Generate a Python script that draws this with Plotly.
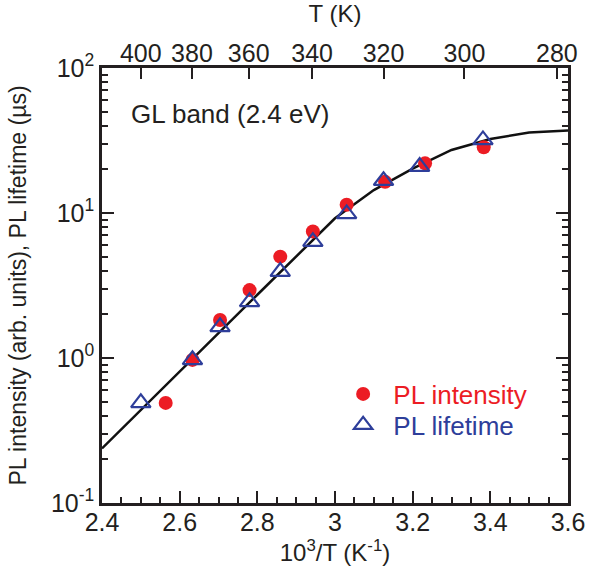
import plotly.graph_objects as go

# ---- data ----
int_x = [2.564, 2.633, 2.704, 2.780, 2.859, 2.943, 3.030, 3.129, 3.232, 3.383]
int_y = [0.49, 0.97, 1.83, 2.94, 5.0, 7.45, 11.4, 16.4, 22.0, 28.4]

life_x = [2.500, 2.633, 2.704, 2.780, 2.859, 2.943, 3.030, 3.125, 3.218, 3.381]
life_y = [0.49, 0.97, 1.64, 2.44, 3.94, 6.34, 9.85, 16.7, 20.9, 31.9]

fit_x = [2.40, 2.60, 2.80, 3.00, 3.10, 3.20, 3.30, 3.40, 3.50, 3.60]
fit_y = [0.238, 0.81, 2.73, 9.2, 14.4, 20.2, 27.2, 32.4, 35.9, 37.0]

T_ticks = [400, 380, 360, 340, 320, 300, 280]
y_tickvals = [0.1, 1, 10, 100]
y_ticktext = ["10<sup>-1</sup>", "10<sup>0</sup>", "10<sup>1</sup>", "10<sup>2</sup>"]
y_minor = [m * d for d in (0.1, 1, 10) for m in range(2, 10)]

RED = "#EC1C24"
BLUE = "#2E3E9A"
INK = "#231F20"
FONT = "Liberation Sans, Arial, sans-serif"
NB = "\u00a0"

fig = go.Figure()
fig.add_trace(go.Scatter(x=fit_x, y=fit_y, mode="lines",
                         line=dict(color="#111111", width=2.5), showlegend=False))
fig.add_trace(go.Scatter(x=int_x, y=int_y, mode="markers", legend="legend",
                         name='<span style="color:%s">%sPL intensity</span>' % (RED, NB),
                         marker=dict(symbol="circle", size=14, color=RED)))
fig.add_trace(go.Scatter(x=life_x, y=life_y, mode="markers", legend="legend2",
                         name='<span style="color:%s">%sPL lifetime</span>' % (BLUE, NB),
                         marker=dict(symbol="triangle-up-open", size=17, color=BLUE,
                                     line=dict(width=2.2, color=BLUE))))
# invisible trace to attach the top (T) axis
fig.add_trace(go.Scatter(x=[2.4], y=[1], xaxis="x2", mode="markers",
                         marker=dict(opacity=0), showlegend=False, hoverinfo="skip"))

legend_common = dict(xanchor="left", yanchor="middle", bgcolor="rgba(0,0,0,0)",
                     font=dict(size=26), itemwidth=36)
TICKFONT = dict(size=25)

fig.update_layout(
    width=590, height=577,
    margin=dict(l=102, r=22, t=68, b=74),
    paper_bgcolor="white", plot_bgcolor="white",
    font=dict(family=FONT, size=24, color=INK),
    xaxis=dict(range=[2.4, 3.6], dtick=0.2, tick0=2.4, ticks="inside", ticklen=12,
               tickwidth=2, tickcolor=INK, showline=True, linewidth=2.5,
               linecolor=INK, mirror=True, showgrid=False, zeroline=False,
               tickformat="~g", automargin=False, ticklabelstandoff=-5,
               tickfont=TICKFONT,
               minor=dict(dtick=0.05, ticks="inside", ticklen=6, tickwidth=1.8,
                          tickcolor=INK, showgrid=False),
               title=dict(text="10<sup>3</sup>/T (K<sup>-1</sup>)", standoff=1,
                          font=dict(size=24))),
    xaxis2=dict(range=[2.4, 3.6], overlaying="x", side="top", anchor="y",
                tickvals=[1000.0 / t for t in T_ticks],
                ticktext=[str(t) for t in T_ticks], automargin=False,
                ticks="inside", ticklen=11, tickwidth=2, tickcolor=INK,
                showgrid=False, zeroline=False, showline=False, tickfont=TICKFONT,
                title=dict(text="T (K)", standoff=14, font=dict(size=24))),
    yaxis=dict(type="log", range=[-1, 2], tickvals=y_tickvals, ticktext=y_ticktext,
               ticks="inside", ticklen=12, tickwidth=2, tickcolor=INK,
               showline=True, linewidth=2.5, linecolor=INK, mirror="ticks",
               showgrid=False, zeroline=False, automargin=False, tickfont=TICKFONT,
               minor=dict(tickvals=y_minor, ticks="inside", ticklen=6, tickwidth=1.8,
                          tickcolor=INK, showgrid=False),
               title=dict(text="PL intensity (arb. units), PL lifetime (µs)", standoff=18,
                          font=dict(size=23))),
    legend=dict(x=0.511, y=0.2506, **legend_common),
    legend2=dict(x=0.511, y=0.1793, **legend_common),
    annotations=[dict(text="GL band (2.4 eV)", xref="paper", yref="paper",
                      x=0.058, y=0.895, xanchor="left", yanchor="middle",
                      showarrow=False, font=dict(size=26))],
)

# remove the browser's default 8 px body margin so the 590x577 figure fills the window
fig.write_html("out.html", config={"displayModeBar": False},
               post_script="document.body.style.margin='0';")
